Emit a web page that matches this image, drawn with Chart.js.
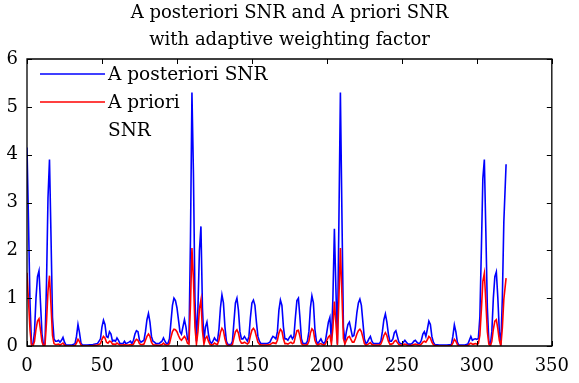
<!DOCTYPE html>
<html>
<head>
<meta charset="utf-8">
<script src="https://cdn.jsdelivr.net/npm/chart.js@4/dist/chart.umd.min.js"></script>
<style>
  html, body { margin: 0; padding: 0; background: #fff; }
  #wrap { width: 579px; height: 383px; }
</style>
</head>
<body>
<div id="wrap"><canvas id="c" width="579" height="383"></canvas></div>
<script>
// ---- data ----
const titleLines = ["A posteriori SNR and A priori SNR", "with adaptive weighting factor"];
const seriesLabels = ["A posteriori SNR", "A priori SNR"];
const legendText = [["A posteriori SNR"], ["A priori", "SNR"]];
const xTicks = [0, 50, 100, 150, 200, 250, 300, 350];
const yTicks = [0, 1, 2, 3, 4, 5, 6];

const xValues = [
  0,1,2,3,4,5,6,7,8,9,10,11,12,13,14,15,16,17,18,19,20,21,22,23,24,25,26,28,30,32,33,34,35,36,37,40,44,47,49,
  50,51,52,53,54,55,56,57,58,59,60,61,62,64,65,66,68,69,70,71,72,73,74,75,76,77,78,79,80,81,82,83,84,85,86,88,
  90,91,92,93,94,95,96,97,98,99,100,101,102,103,104,105,106,107,108,109,110,111,112,113,114,115,116,117,118,119,
  120,121,122,123,124,125,126,127,128,129,130,131,132,133,134,136,137,138,139,140,141,142,143,144,145,146,147,148,149,
  150,151,152,153,154,155,156,158,160,162,163,164,165,166,167,168,169,170,171,172,173,174,175,176,177,178,179,
  180,181,182,183,184,186,187,188,189,190,191,192,193,194,195,196,197,198,199,200,201,202,203,204,205,206,207,208,209,
  210,211,212,213,214,215,216,217,218,219,220,221,222,223,224,225,226,227,228,229,230,231,233,235,236,237,238,239,
  240,241,242,243,244,245,246,247,248,249,250,251,252,253,254,256,257,258,259,260,261,262,263,264,265,266,267,268,269,
  270,271,272,275,280,283,284,285,286,287,288,292,294,295,296,297,298,299,300,301,302,303,304,305,306,307,308,309,
  310,311,312,313,314,315,316,317,318,319.5
];

const posterioriSNR = [
  4.15,2.6,0.9,0.05,0.02,0.3,1.0,1.45,1.57,0.9,0.25,0.02,0.05,1.3,3.1,3.9,2.3,0.6,0.15,0.1,0.1,0.12,0.08,0.12,0.18,0.08,0.02,0.02,0.02,0.05,0.2,0.45,0.28,0.06,0.02,0.02,0.03,0.05,0.15,
  0.4,0.54,0.45,0.2,0.18,0.3,0.25,0.1,0.12,0.1,0.17,0.12,0.05,0.05,0.1,0.05,0.08,0.1,0.05,0.12,0.25,0.32,0.3,0.12,0.08,0.1,0.12,0.3,0.55,0.68,0.5,0.2,0.1,0.08,0.05,0.05,
  0.1,0.17,0.1,0.05,0.05,0.15,0.5,0.85,1.0,0.95,0.8,0.55,0.3,0.25,0.4,0.55,0.4,0.15,0.1,2.2,5.3,3.6,1.0,0.1,0.8,2.0,2.5,0.8,0.1,0.4,
  0.5,0.25,0.1,0.05,0.1,0.17,0.12,0.1,0.35,0.8,1.07,0.9,0.4,0.1,0.03,0.03,0.1,0.5,0.9,1.0,0.75,0.3,0.15,0.15,0.2,0.15,0.1,0.2,0.6,
  0.9,0.96,0.85,0.5,0.2,0.1,0.05,0.05,0.05,0.08,0.15,0.2,0.18,0.15,0.3,0.75,0.96,0.85,0.4,0.15,0.15,0.12,0.18,0.22,0.15,0.2,0.6,
  0.95,1.0,0.6,0.15,0.05,0.05,0.1,0.3,0.8,1.05,0.9,0.35,0.1,0.05,0.1,0.15,0.08,0.05,0.1,0.3,0.5,0.6,0.1,1.0,2.45,1.2,0.05,2.6,5.3,
  2.8,0.4,0.1,0.3,0.45,0.5,0.35,0.2,0.22,0.4,0.7,0.9,0.98,0.85,0.5,0.15,0.05,0.08,0.15,0.2,0.1,0.05,0.05,0.05,0.1,0.3,0.55,0.67,
  0.5,0.25,0.1,0.1,0.15,0.28,0.32,0.2,0.08,0.05,0.04,0.08,0.12,0.08,0.04,0.04,0.06,0.1,0.12,0.08,0.05,0.06,0.12,0.25,0.3,0.2,0.35,0.52,0.45,
  0.2,0.08,0.03,0.02,0.02,0.03,0.2,0.44,0.3,0.08,0.02,0.02,0.04,0.12,0.2,0.12,0.14,0.15,0.14,0.16,0.6,2.0,3.5,3.9,2.4,0.8,0.1,0.02,
  0.3,1.0,1.45,1.55,1.0,0.3,0.02,1.0,2.6,3.8
];

const prioriSNR = [
  1.53,0.95,0.33,0.02,0.0,0.1,0.35,0.52,0.57,0.33,0.09,0.0,0.02,0.5,1.15,1.47,0.85,0.22,0.05,0.03,0.03,0.04,0.02,0.04,0.06,0.02,0.0,0.0,0.0,0.01,0.06,0.14,0.09,0.02,0.0,0.0,0.01,0.02,0.05,
  0.14,0.2,0.17,0.08,0.06,0.1,0.09,0.04,0.04,0.03,0.06,0.04,0.02,0.02,0.03,0.02,0.02,0.03,0.02,0.04,0.1,0.14,0.12,0.05,0.03,0.03,0.04,0.12,0.2,0.25,0.2,0.08,0.03,0.02,0.02,0.01,
  0.03,0.06,0.03,0.02,0.02,0.05,0.18,0.3,0.35,0.34,0.3,0.22,0.15,0.12,0.16,0.2,0.15,0.06,0.04,0.85,2.05,1.4,0.4,0.04,0.3,0.78,0.96,0.32,0.04,0.16,
  0.2,0.1,0.04,0.02,0.03,0.06,0.04,0.03,0.12,0.28,0.37,0.32,0.15,0.04,0.01,0.01,0.03,0.17,0.3,0.34,0.27,0.12,0.06,0.06,0.08,0.06,0.04,0.07,0.22,
  0.33,0.37,0.32,0.2,0.08,0.04,0.02,0.02,0.02,0.03,0.05,0.07,0.06,0.05,0.12,0.27,0.35,0.31,0.15,0.05,0.05,0.04,0.06,0.08,0.05,0.07,0.2,
  0.32,0.33,0.2,0.05,0.02,0.02,0.03,0.1,0.27,0.36,0.32,0.12,0.04,0.02,0.04,0.05,0.03,0.02,0.04,0.12,0.19,0.22,0.04,0.38,0.93,0.48,0.02,1.0,2.05,
  1.1,0.16,0.04,0.12,0.18,0.2,0.14,0.08,0.08,0.15,0.25,0.32,0.35,0.3,0.18,0.05,0.02,0.03,0.05,0.07,0.03,0.02,0.02,0.02,0.04,0.12,0.22,0.28,
  0.22,0.1,0.04,0.04,0.05,0.1,0.12,0.07,0.03,0.02,0.01,0.03,0.04,0.03,0.01,0.01,0.02,0.03,0.04,0.03,0.02,0.02,0.04,0.08,0.1,0.08,0.13,0.2,0.17,
  0.08,0.03,0.01,0.0,0.0,0.01,0.06,0.14,0.1,0.03,0.0,0.0,0.01,0.04,0.06,0.04,0.04,0.05,0.04,0.05,0.22,0.75,1.35,1.52,0.92,0.3,0.04,0.0,
  0.1,0.35,0.52,0.55,0.36,0.12,0.0,0.38,0.98,1.42
];

// ---- chart ----
const FONT_FAMILY = "'DejaVu Serif', 'Liberation Serif', serif";
const TICK_SIZE = 18;
const TITLE_SIZE = 18;
const LEGEND_SIZE = 18.5;

const frameTitleLegend = {
  id: 'frameTitleLegend',
  afterDraw(chart) {
    const ctx = chart.ctx;
    const a = chart.chartArea;
    const xs = chart.scales.x, ys = chart.scales.y;
    ctx.save();
    ctx.setLineDash([]);
    ctx.globalAlpha = 1;

    // frame box
    ctx.strokeStyle = '#000000';
    ctx.lineWidth = 1.3;
    ctx.beginPath();
    ctx.moveTo(a.left, a.top);
    ctx.lineTo(a.right, a.top);
    ctx.lineTo(a.right, a.bottom);
    ctx.lineTo(a.left, a.bottom);
    ctx.closePath();
    ctx.stroke();

    // inward ticks on all four sides
    const tl = 5;
    ctx.lineWidth = 1;
    ctx.beginPath();
    xTicks.forEach(v => {
      const px = Math.round(xs.getPixelForValue(v)) + 0.5;
      ctx.moveTo(px, a.bottom); ctx.lineTo(px, a.bottom - tl);
      ctx.moveTo(px, a.top); ctx.lineTo(px, a.top + tl);
    });
    yTicks.forEach(v => {
      const py = Math.round(ys.getPixelForValue(v)) + 0.5;
      ctx.moveTo(a.left, py); ctx.lineTo(a.left + tl, py);
      ctx.moveTo(a.right, py); ctx.lineTo(a.right - tl, py);
    });
    ctx.stroke();

    // title, centred on the whole canvas
    ctx.fillStyle = '#000';
    ctx.textAlign = 'center';
    ctx.textBaseline = 'middle';
    ctx.font = TITLE_SIZE + 'px ' + FONT_FAMILY;
    titleLines.forEach((t, i) => {
      ctx.fillText(t, chart.width / 2, 13 + i * 27);
    });

    // legend (inside top-left, no box)
    ctx.font = LEGEND_SIZE + 'px ' + FONT_FAMILY;
    ctx.textAlign = 'left';
    const rowH = 28;
    let y = a.top + 15;
    chart.data.datasets.forEach((ds, i) => {
      ctx.strokeStyle = ds.borderColor;
      ctx.lineWidth = 1.5;
      ctx.beginPath();
      ctx.moveTo(a.left + 13, y);
      ctx.lineTo(a.left + 78, y);
      ctx.stroke();
      legendText[i].forEach((t, k) => {
        ctx.fillText(t, a.left + 81, y + 1 + k * rowH);
      });
      y += rowH * legendText[i].length;
    });
    ctx.restore();
  }
};

new Chart(document.getElementById('c'), {
  type: 'line',
  data: {
    datasets: [
      {
        label: seriesLabels[0],
        data: xValues.map((x, i) => ({ x: x, y: posterioriSNR[i] })),
        borderColor: '#0000ff',
        borderWidth: 1.6,
        pointRadius: 0,
        tension: 0,
        fill: false,
        order: 2
      },
      {
        label: seriesLabels[1],
        data: xValues.map((x, i) => ({ x: x, y: prioriSNR[i] })),
        borderColor: '#ff0000',
        borderWidth: 1.6,
        pointRadius: 0,
        tension: 0,
        fill: false,
        order: 1
      }
    ]
  },
  options: {
    responsive: false,
    devicePixelRatio: 1,
    animation: false,
    layout: { padding: { left: 0, right: 23, top: 59, bottom: 0 } },
    plugins: {
      legend: { display: false },
      tooltip: { enabled: false },
      title: { display: false }
    },
    scales: {
      x: {
        type: 'linear',
        min: 0, max: 350,
        afterBuildTicks: s => { s.ticks = xTicks.map(v => ({ value: v })); },
        afterFit: s => { s.height = 37; },
        grid: { display: false, drawTicks: false },
        border: { display: false },
        ticks: { color: '#000', font: { family: FONT_FAMILY, size: TICK_SIZE }, padding: 10, maxRotation: 0 }
      },
      y: {
        min: 0, max: 6,
        afterBuildTicks: s => { s.ticks = yTicks.map(v => ({ value: v })); },
        afterFit: s => { s.width = 27; },
        grid: { display: false, drawTicks: false },
        border: { display: false },
        ticks: { color: '#000', font: { family: FONT_FAMILY, size: TICK_SIZE }, padding: 9 }
      }
    }
  },
  plugins: [frameTitleLegend]
});
</script>
</body>
</html>
